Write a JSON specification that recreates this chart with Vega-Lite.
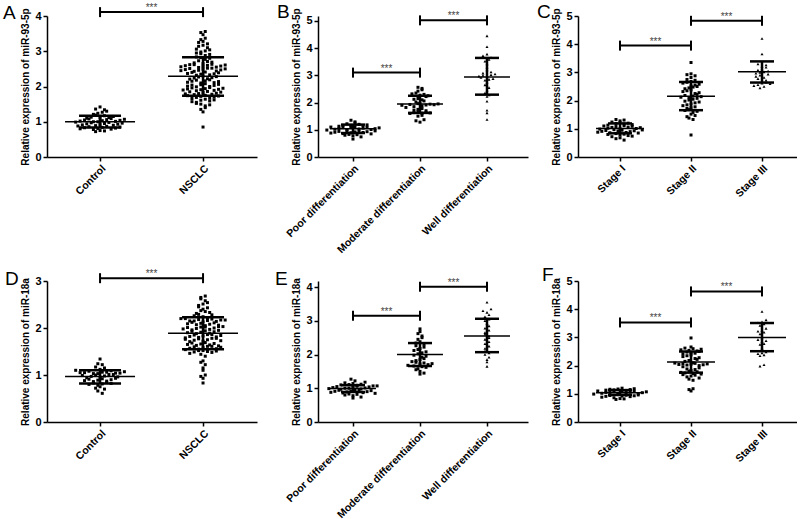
{
"$schema":"https://vega.github.io/schema/vega-lite/v6.json",
"padding":{"left":3,"top":2,"right":0,"bottom":0},
"background":"white",
"config":{"font":"Liberation Sans","view":{"stroke":null},
"axis":{"grid":false,"domainColor":"#000","domainWidth":1.5,"tickColor":"#000","tickWidth":1.5,"tickSize":4,"labelColor":"#000","labelFontSize":11,"labelFontWeight":"bold","labelPadding":2,"labelOverlap":false,"titleFontSize":10,"titleFontWeight":"bold","titleColor":"#000","titlePadding":4,"tickCount":12},
"axisX":{"labelAngle":-45,"labelFontSize":10.5},
"title":{"anchor":"start","frame":"group","fontSize":19,"fontWeight":"normal","color":"#000","offset":0,"baseline":"alphabetic"}},
"datasets":{
"pA":[{"g":"Control","v":0.72},{"g":"Control","v":0.74},{"g":"Control","v":0.75},{"g":"Control","v":0.78},{"g":"Control","v":0.79},{"g":"Control","v":0.80},{"g":"Control","v":0.81},{"g":"Control","v":0.82},{"g":"Control","v":0.83},{"g":"Control","v":0.84},{"g":"Control","v":0.85},{"g":"Control","v":0.86},{"g":"Control","v":0.87},{"g":"Control","v":0.88},{"g":"Control","v":0.89},{"g":"Control","v":0.90},{"g":"Control","v":0.91},{"g":"Control","v":0.92},{"g":"Control","v":0.93},{"g":"Control","v":0.94},{"g":"Control","v":0.95},{"g":"Control","v":0.96},{"g":"Control","v":0.97},{"g":"Control","v":0.98},{"g":"Control","v":0.99},{"g":"Control","v":1.00},{"g":"Control","v":1.00},{"g":"Control","v":1.01},{"g":"Control","v":1.02},{"g":"Control","v":1.03},{"g":"Control","v":1.04},{"g":"Control","v":1.05},{"g":"Control","v":1.06},{"g":"Control","v":1.07},{"g":"Control","v":1.08},{"g":"Control","v":1.09},{"g":"Control","v":1.10},{"g":"Control","v":1.11},{"g":"Control","v":1.12},{"g":"Control","v":1.13},{"g":"Control","v":1.15},{"g":"Control","v":1.17},{"g":"Control","v":1.19},{"g":"Control","v":1.21},{"g":"Control","v":1.24},{"g":"Control","v":1.27},{"g":"Control","v":1.30},{"g":"Control","v":1.34},{"g":"Control","v":1.36},{"g":"Control","v":1.42},
{"g":"NSCLC","v":0.85},{"g":"NSCLC","v":1.28},{"g":"NSCLC","v":1.35},{"g":"NSCLC","v":1.40},{"g":"NSCLC","v":1.45},{"g":"NSCLC","v":1.48},{"g":"NSCLC","v":1.50},{"g":"NSCLC","v":1.52},{"g":"NSCLC","v":1.55},{"g":"NSCLC","v":1.57},{"g":"NSCLC","v":1.59},{"g":"NSCLC","v":1.61},{"g":"NSCLC","v":1.62},{"g":"NSCLC","v":1.64},{"g":"NSCLC","v":1.66},{"g":"NSCLC","v":1.67},{"g":"NSCLC","v":1.69},{"g":"NSCLC","v":1.70},{"g":"NSCLC","v":1.72},{"g":"NSCLC","v":1.73},{"g":"NSCLC","v":1.74},{"g":"NSCLC","v":1.75},{"g":"NSCLC","v":1.77},{"g":"NSCLC","v":1.78},{"g":"NSCLC","v":1.79},{"g":"NSCLC","v":1.80},{"g":"NSCLC","v":1.81},{"g":"NSCLC","v":1.83},{"g":"NSCLC","v":1.84},{"g":"NSCLC","v":1.85},{"g":"NSCLC","v":1.86},{"g":"NSCLC","v":1.88},{"g":"NSCLC","v":1.89},{"g":"NSCLC","v":1.90},{"g":"NSCLC","v":1.91},{"g":"NSCLC","v":1.92},{"g":"NSCLC","v":1.93},{"g":"NSCLC","v":1.94},{"g":"NSCLC","v":1.95},{"g":"NSCLC","v":1.96},{"g":"NSCLC","v":1.97},{"g":"NSCLC","v":1.99},{"g":"NSCLC","v":2.00},{"g":"NSCLC","v":2.01},{"g":"NSCLC","v":2.03},{"g":"NSCLC","v":2.04},{"g":"NSCLC","v":2.05},{"g":"NSCLC","v":2.06},{"g":"NSCLC","v":2.08},{"g":"NSCLC","v":2.10},{"g":"NSCLC","v":2.11},{"g":"NSCLC","v":2.12},{"g":"NSCLC","v":2.14},{"g":"NSCLC","v":2.15},{"g":"NSCLC","v":2.16},{"g":"NSCLC","v":2.18},{"g":"NSCLC","v":2.19},{"g":"NSCLC","v":2.21},{"g":"NSCLC","v":2.22},{"g":"NSCLC","v":2.24},{"g":"NSCLC","v":2.25},{"g":"NSCLC","v":2.27},{"g":"NSCLC","v":2.28},{"g":"NSCLC","v":2.30},{"g":"NSCLC","v":2.32},{"g":"NSCLC","v":2.33},{"g":"NSCLC","v":2.35},{"g":"NSCLC","v":2.36},{"g":"NSCLC","v":2.37},{"g":"NSCLC","v":2.39},{"g":"NSCLC","v":2.40},{"g":"NSCLC","v":2.41},{"g":"NSCLC","v":2.43},{"g":"NSCLC","v":2.44},{"g":"NSCLC","v":2.45},{"g":"NSCLC","v":2.46},{"g":"NSCLC","v":2.47},{"g":"NSCLC","v":2.48},{"g":"NSCLC","v":2.49},{"g":"NSCLC","v":2.50},{"g":"NSCLC","v":2.51},{"g":"NSCLC","v":2.52},{"g":"NSCLC","v":2.52},{"g":"NSCLC","v":2.54},{"g":"NSCLC","v":2.55},{"g":"NSCLC","v":2.56},{"g":"NSCLC","v":2.57},{"g":"NSCLC","v":2.58},{"g":"NSCLC","v":2.59},{"g":"NSCLC","v":2.60},{"g":"NSCLC","v":2.61},{"g":"NSCLC","v":2.62},{"g":"NSCLC","v":2.62},{"g":"NSCLC","v":2.63},{"g":"NSCLC","v":2.65},{"g":"NSCLC","v":2.67},{"g":"NSCLC","v":2.69},{"g":"NSCLC","v":2.71},{"g":"NSCLC","v":2.73},{"g":"NSCLC","v":2.77},{"g":"NSCLC","v":2.80},{"g":"NSCLC","v":2.82},{"g":"NSCLC","v":2.84},{"g":"NSCLC","v":2.88},{"g":"NSCLC","v":2.91},{"g":"NSCLC","v":2.93},{"g":"NSCLC","v":2.95},{"g":"NSCLC","v":2.98},{"g":"NSCLC","v":3.01},{"g":"NSCLC","v":3.04},{"g":"NSCLC","v":3.06},{"g":"NSCLC","v":3.10},{"g":"NSCLC","v":3.14},{"g":"NSCLC","v":3.17},{"g":"NSCLC","v":3.21},{"g":"NSCLC","v":3.25},{"g":"NSCLC","v":3.28},{"g":"NSCLC","v":3.33},{"g":"NSCLC","v":3.37},{"g":"NSCLC","v":3.47},{"g":"NSCLC","v":3.53},{"g":"NSCLC","v":3.56}],
"sA":[{"g":"Control","m":1.0,"lo":0.84,"hi":1.17},{"g":"NSCLC","m":2.29,"lo":1.74,"hi":2.83}],
"gA":[{"a":"Control","b":"NSCLC","y":4.11}],
"pB":[{"g":"Poor","v":0.66},{"g":"Poor","v":0.74},{"g":"Poor","v":0.78},{"g":"Poor","v":0.80},{"g":"Poor","v":0.82},{"g":"Poor","v":0.83},{"g":"Poor","v":0.85},{"g":"Poor","v":0.86},{"g":"Poor","v":0.88},{"g":"Poor","v":0.89},{"g":"Poor","v":0.90},{"g":"Poor","v":0.91},{"g":"Poor","v":0.92},{"g":"Poor","v":0.93},{"g":"Poor","v":0.94},{"g":"Poor","v":0.95},{"g":"Poor","v":0.96},{"g":"Poor","v":0.97},{"g":"Poor","v":0.99},{"g":"Poor","v":1.00},{"g":"Poor","v":1.01},{"g":"Poor","v":1.02},{"g":"Poor","v":1.03},{"g":"Poor","v":1.04},{"g":"Poor","v":1.05},{"g":"Poor","v":1.06},{"g":"Poor","v":1.07},{"g":"Poor","v":1.08},{"g":"Poor","v":1.09},{"g":"Poor","v":1.10},{"g":"Poor","v":1.11},{"g":"Poor","v":1.11},{"g":"Poor","v":1.13},{"g":"Poor","v":1.14},{"g":"Poor","v":1.15},{"g":"Poor","v":1.16},{"g":"Poor","v":1.18},{"g":"Poor","v":1.20},{"g":"Poor","v":1.22},{"g":"Poor","v":1.25},{"g":"Poor","v":1.29},{"g":"Poor","v":1.35},
{"g":"Moderate","v":1.28},{"g":"Moderate","v":1.33},{"g":"Moderate","v":1.37},{"g":"Moderate","v":1.50},{"g":"Moderate","v":1.53},{"g":"Moderate","v":1.60},{"g":"Moderate","v":1.61},{"g":"Moderate","v":1.62},{"g":"Moderate","v":1.63},{"g":"Moderate","v":1.64},{"g":"Moderate","v":1.66},{"g":"Moderate","v":1.70},{"g":"Moderate","v":1.72},{"g":"Moderate","v":1.75},{"g":"Moderate","v":1.78},{"g":"Moderate","v":1.82},{"g":"Moderate","v":1.85},{"g":"Moderate","v":1.88},{"g":"Moderate","v":1.90},{"g":"Moderate","v":1.91},{"g":"Moderate","v":1.92},{"g":"Moderate","v":1.93},{"g":"Moderate","v":1.94},{"g":"Moderate","v":1.95},{"g":"Moderate","v":1.96},{"g":"Moderate","v":1.97},{"g":"Moderate","v":2.02},{"g":"Moderate","v":2.06},{"g":"Moderate","v":2.10},{"g":"Moderate","v":2.12},{"g":"Moderate","v":2.15},{"g":"Moderate","v":2.22},{"g":"Moderate","v":2.25},{"g":"Moderate","v":2.27},{"g":"Moderate","v":2.30},{"g":"Moderate","v":2.32},{"g":"Moderate","v":2.35},{"g":"Moderate","v":2.42},{"g":"Moderate","v":2.47},{"g":"Moderate","v":2.52},{"g":"Moderate","v":2.56},
{"g":"Well","v":1.38},{"g":"Well","v":1.62},{"g":"Well","v":1.72},{"g":"Well","v":2.05},{"g":"Well","v":2.22},{"g":"Well","v":2.28},{"g":"Well","v":2.35},{"g":"Well","v":2.45},{"g":"Well","v":2.55},{"g":"Well","v":2.65},{"g":"Well","v":2.75},{"g":"Well","v":2.82},{"g":"Well","v":2.85},{"g":"Well","v":2.88},{"g":"Well","v":2.92},{"g":"Well","v":2.95},{"g":"Well","v":2.97},{"g":"Well","v":3.00},{"g":"Well","v":3.02},{"g":"Well","v":3.05},{"g":"Well","v":3.08},{"g":"Well","v":3.12},{"g":"Well","v":3.20},{"g":"Well","v":3.30},{"g":"Well","v":3.42},{"g":"Well","v":3.52},{"g":"Well","v":3.58},{"g":"Well","v":3.65},{"g":"Well","v":3.72},{"g":"Well","v":3.78},{"g":"Well","v":4.05},{"g":"Well","v":4.45}],
"sB":[{"g":"Poor","m":1.04,"lo":0.88,"hi":1.19},{"g":"Moderate","m":1.95,"lo":1.62,"hi":2.25},{"g":"Well","m":2.94,"lo":2.29,"hi":3.64}],
"gB":[{"a":"Poor","b":"Moderate","y":3.1},{"a":"Moderate","b":"Well","y":5.02}],
"pC":[{"g":"I","v":0.60},{"g":"I","v":0.65},{"g":"I","v":0.68},{"g":"I","v":0.72},{"g":"I","v":0.74},{"g":"I","v":0.76},{"g":"I","v":0.78},{"g":"I","v":0.80},{"g":"I","v":0.81},{"g":"I","v":0.83},{"g":"I","v":0.85},{"g":"I","v":0.86},{"g":"I","v":0.87},{"g":"I","v":0.88},{"g":"I","v":0.90},{"g":"I","v":0.91},{"g":"I","v":0.92},{"g":"I","v":0.93},{"g":"I","v":0.94},{"g":"I","v":0.95},{"g":"I","v":0.96},{"g":"I","v":0.97},{"g":"I","v":0.99},{"g":"I","v":1.00},{"g":"I","v":1.01},{"g":"I","v":1.02},{"g":"I","v":1.04},{"g":"I","v":1.05},{"g":"I","v":1.06},{"g":"I","v":1.08},{"g":"I","v":1.09},{"g":"I","v":1.10},{"g":"I","v":1.11},{"g":"I","v":1.13},{"g":"I","v":1.15},{"g":"I","v":1.17},{"g":"I","v":1.19},{"g":"I","v":1.20},{"g":"I","v":1.22},{"g":"I","v":1.24},{"g":"I","v":1.28},{"g":"I","v":1.31},{"g":"I","v":1.33},
{"g":"II","v":0.78},{"g":"II","v":1.33},{"g":"II","v":1.38},{"g":"II","v":1.43},{"g":"II","v":1.47},{"g":"II","v":1.52},{"g":"II","v":1.58},{"g":"II","v":1.62},{"g":"II","v":1.65},{"g":"II","v":1.68},{"g":"II","v":1.72},{"g":"II","v":1.75},{"g":"II","v":1.78},{"g":"II","v":1.82},{"g":"II","v":1.85},{"g":"II","v":1.88},{"g":"II","v":1.92},{"g":"II","v":1.95},{"g":"II","v":1.98},{"g":"II","v":2.02},{"g":"II","v":2.05},{"g":"II","v":2.08},{"g":"II","v":2.10},{"g":"II","v":2.12},{"g":"II","v":2.14},{"g":"II","v":2.16},{"g":"II","v":2.18},{"g":"II","v":2.22},{"g":"II","v":2.25},{"g":"II","v":2.28},{"g":"II","v":2.32},{"g":"II","v":2.35},{"g":"II","v":2.38},{"g":"II","v":2.42},{"g":"II","v":2.45},{"g":"II","v":2.48},{"g":"II","v":2.50},{"g":"II","v":2.52},{"g":"II","v":2.55},{"g":"II","v":2.58},{"g":"II","v":2.62},{"g":"II","v":2.65},{"g":"II","v":2.68},{"g":"II","v":2.72},{"g":"II","v":2.75},{"g":"II","v":2.82},{"g":"II","v":2.88},{"g":"II","v":2.92},{"g":"II","v":2.95},{"g":"II","v":3.35},
{"g":"III","v":2.45},{"g":"III","v":2.50},{"g":"III","v":2.53},{"g":"III","v":2.56},{"g":"III","v":2.60},{"g":"III","v":2.62},{"g":"III","v":2.65},{"g":"III","v":2.68},{"g":"III","v":2.72},{"g":"III","v":2.78},{"g":"III","v":2.82},{"g":"III","v":2.86},{"g":"III","v":2.90},{"g":"III","v":2.94},{"g":"III","v":2.97},{"g":"III","v":3.00},{"g":"III","v":3.02},{"g":"III","v":3.05},{"g":"III","v":3.08},{"g":"III","v":3.12},{"g":"III","v":3.18},{"g":"III","v":3.22},{"g":"III","v":3.26},{"g":"III","v":3.30},{"g":"III","v":3.65},{"g":"III","v":4.20}],
"sC":[{"g":"I","m":1.01,"lo":0.84,"hi":1.19},{"g":"II","m":2.15,"lo":1.66,"hi":2.66},{"g":"III","m":3.02,"lo":2.64,"hi":3.39}],
"gC":[{"a":"I","b":"II","y":3.95},{"a":"II","b":"III","y":4.83}],
"pD":[{"g":"Control","v":0.61},{"g":"Control","v":0.66},{"g":"Control","v":0.70},{"g":"Control","v":0.72},{"g":"Control","v":0.75},{"g":"Control","v":0.78},{"g":"Control","v":0.80},{"g":"Control","v":0.81},{"g":"Control","v":0.82},{"g":"Control","v":0.83},{"g":"Control","v":0.84},{"g":"Control","v":0.86},{"g":"Control","v":0.87},{"g":"Control","v":0.88},{"g":"Control","v":0.89},{"g":"Control","v":0.90},{"g":"Control","v":0.91},{"g":"Control","v":0.92},{"g":"Control","v":0.93},{"g":"Control","v":0.94},{"g":"Control","v":0.95},{"g":"Control","v":0.96},{"g":"Control","v":0.97},{"g":"Control","v":0.98},{"g":"Control","v":0.99},{"g":"Control","v":1.00},{"g":"Control","v":1.01},{"g":"Control","v":1.01},{"g":"Control","v":1.03},{"g":"Control","v":1.03},{"g":"Control","v":1.04},{"g":"Control","v":1.04},{"g":"Control","v":1.05},{"g":"Control","v":1.05},{"g":"Control","v":1.06},{"g":"Control","v":1.06},{"g":"Control","v":1.07},{"g":"Control","v":1.08},{"g":"Control","v":1.09},{"g":"Control","v":1.10},{"g":"Control","v":1.12},{"g":"Control","v":1.15},{"g":"Control","v":1.17},{"g":"Control","v":1.22},{"g":"Control","v":1.24},{"g":"Control","v":1.34},
{"g":"NSCLC","v":0.83},{"g":"NSCLC","v":0.93},{"g":"NSCLC","v":0.97},{"g":"NSCLC","v":1.00},{"g":"NSCLC","v":1.10},{"g":"NSCLC","v":1.15},{"g":"NSCLC","v":1.22},{"g":"NSCLC","v":1.27},{"g":"NSCLC","v":1.30},{"g":"NSCLC","v":1.40},{"g":"NSCLC","v":1.44},{"g":"NSCLC","v":1.46},{"g":"NSCLC","v":1.48},{"g":"NSCLC","v":1.49},{"g":"NSCLC","v":1.50},{"g":"NSCLC","v":1.51},{"g":"NSCLC","v":1.52},{"g":"NSCLC","v":1.52},{"g":"NSCLC","v":1.54},{"g":"NSCLC","v":1.55},{"g":"NSCLC","v":1.56},{"g":"NSCLC","v":1.57},{"g":"NSCLC","v":1.58},{"g":"NSCLC","v":1.59},{"g":"NSCLC","v":1.60},{"g":"NSCLC","v":1.61},{"g":"NSCLC","v":1.61},{"g":"NSCLC","v":1.62},{"g":"NSCLC","v":1.63},{"g":"NSCLC","v":1.64},{"g":"NSCLC","v":1.65},{"g":"NSCLC","v":1.66},{"g":"NSCLC","v":1.67},{"g":"NSCLC","v":1.68},{"g":"NSCLC","v":1.69},{"g":"NSCLC","v":1.71},{"g":"NSCLC","v":1.72},{"g":"NSCLC","v":1.73},{"g":"NSCLC","v":1.74},{"g":"NSCLC","v":1.75},{"g":"NSCLC","v":1.76},{"g":"NSCLC","v":1.77},{"g":"NSCLC","v":1.78},{"g":"NSCLC","v":1.78},{"g":"NSCLC","v":1.79},{"g":"NSCLC","v":1.80},{"g":"NSCLC","v":1.81},{"g":"NSCLC","v":1.82},{"g":"NSCLC","v":1.83},{"g":"NSCLC","v":1.84},{"g":"NSCLC","v":1.85},{"g":"NSCLC","v":1.86},{"g":"NSCLC","v":1.86},{"g":"NSCLC","v":1.88},{"g":"NSCLC","v":1.89},{"g":"NSCLC","v":1.90},{"g":"NSCLC","v":1.91},{"g":"NSCLC","v":1.92},{"g":"NSCLC","v":1.93},{"g":"NSCLC","v":1.94},{"g":"NSCLC","v":1.95},{"g":"NSCLC","v":1.96},{"g":"NSCLC","v":1.97},{"g":"NSCLC","v":1.98},{"g":"NSCLC","v":1.99},{"g":"NSCLC","v":2.00},{"g":"NSCLC","v":2.01},{"g":"NSCLC","v":2.02},{"g":"NSCLC","v":2.03},{"g":"NSCLC","v":2.03},{"g":"NSCLC","v":2.02},{"g":"NSCLC","v":2.05},{"g":"NSCLC","v":2.06},{"g":"NSCLC","v":2.07},{"g":"NSCLC","v":2.08},{"g":"NSCLC","v":2.09},{"g":"NSCLC","v":2.10},{"g":"NSCLC","v":2.11},{"g":"NSCLC","v":2.12},{"g":"NSCLC","v":2.13},{"g":"NSCLC","v":2.14},{"g":"NSCLC","v":2.15},{"g":"NSCLC","v":2.16},{"g":"NSCLC","v":2.17},{"g":"NSCLC","v":2.18},{"g":"NSCLC","v":2.19},{"g":"NSCLC","v":2.20},{"g":"NSCLC","v":2.20},{"g":"NSCLC","v":2.15},{"g":"NSCLC","v":2.17},{"g":"NSCLC","v":2.22},{"g":"NSCLC","v":2.24},{"g":"NSCLC","v":2.26},{"g":"NSCLC","v":2.28},{"g":"NSCLC","v":2.29},{"g":"NSCLC","v":2.31},{"g":"NSCLC","v":2.33},{"g":"NSCLC","v":2.35},{"g":"NSCLC","v":2.37},{"g":"NSCLC","v":2.40},{"g":"NSCLC","v":2.43},{"g":"NSCLC","v":2.45},{"g":"NSCLC","v":2.48},{"g":"NSCLC","v":2.51},{"g":"NSCLC","v":2.54},{"g":"NSCLC","v":2.58},{"g":"NSCLC","v":2.62},{"g":"NSCLC","v":2.65},{"g":"NSCLC","v":2.68}],
"sD":[{"g":"Control","m":0.97,"lo":0.82,"hi":1.10},{"g":"NSCLC","m":1.89,"lo":1.55,"hi":2.23}],
"gD":[{"a":"Control","b":"NSCLC","y":3.06}],
"pE":[{"g":"Poor","v":0.71},{"g":"Poor","v":0.74},{"g":"Poor","v":0.78},{"g":"Poor","v":0.80},{"g":"Poor","v":0.82},{"g":"Poor","v":0.83},{"g":"Poor","v":0.85},{"g":"Poor","v":0.86},{"g":"Poor","v":0.87},{"g":"Poor","v":0.88},{"g":"Poor","v":0.89},{"g":"Poor","v":0.90},{"g":"Poor","v":0.91},{"g":"Poor","v":0.92},{"g":"Poor","v":0.93},{"g":"Poor","v":0.94},{"g":"Poor","v":0.95},{"g":"Poor","v":0.95},{"g":"Poor","v":0.97},{"g":"Poor","v":0.98},{"g":"Poor","v":0.99},{"g":"Poor","v":1.00},{"g":"Poor","v":1.00},{"g":"Poor","v":1.01},{"g":"Poor","v":1.02},{"g":"Poor","v":1.03},{"g":"Poor","v":1.04},{"g":"Poor","v":1.05},{"g":"Poor","v":1.06},{"g":"Poor","v":1.07},{"g":"Poor","v":1.07},{"g":"Poor","v":1.09},{"g":"Poor","v":1.10},{"g":"Poor","v":1.11},{"g":"Poor","v":1.12},{"g":"Poor","v":1.14},{"g":"Poor","v":1.16},{"g":"Poor","v":1.18},{"g":"Poor","v":1.22},{"g":"Poor","v":1.27},
{"g":"Moderate","v":1.42},{"g":"Moderate","v":1.45},{"g":"Moderate","v":1.50},{"g":"Moderate","v":1.55},{"g":"Moderate","v":1.58},{"g":"Moderate","v":1.62},{"g":"Moderate","v":1.64},{"g":"Moderate","v":1.66},{"g":"Moderate","v":1.68},{"g":"Moderate","v":1.70},{"g":"Moderate","v":1.72},{"g":"Moderate","v":1.73},{"g":"Moderate","v":1.75},{"g":"Moderate","v":1.77},{"g":"Moderate","v":1.79},{"g":"Moderate","v":1.82},{"g":"Moderate","v":1.85},{"g":"Moderate","v":1.88},{"g":"Moderate","v":1.92},{"g":"Moderate","v":1.95},{"g":"Moderate","v":1.98},{"g":"Moderate","v":2.02},{"g":"Moderate","v":2.05},{"g":"Moderate","v":2.08},{"g":"Moderate","v":2.12},{"g":"Moderate","v":2.15},{"g":"Moderate","v":2.18},{"g":"Moderate","v":2.22},{"g":"Moderate","v":2.26},{"g":"Moderate","v":2.30},{"g":"Moderate","v":2.34},{"g":"Moderate","v":2.38},{"g":"Moderate","v":2.45},{"g":"Moderate","v":2.50},{"g":"Moderate","v":2.55},{"g":"Moderate","v":2.62},{"g":"Moderate","v":2.68},{"g":"Moderate","v":2.76},
{"g":"Well","v":1.65},{"g":"Well","v":1.78},{"g":"Well","v":1.85},{"g":"Well","v":1.92},{"g":"Well","v":2.00},{"g":"Well","v":2.05},{"g":"Well","v":2.10},{"g":"Well","v":2.18},{"g":"Well","v":2.25},{"g":"Well","v":2.32},{"g":"Well","v":2.38},{"g":"Well","v":2.45},{"g":"Well","v":2.50},{"g":"Well","v":2.55},{"g":"Well","v":2.60},{"g":"Well","v":2.65},{"g":"Well","v":2.72},{"g":"Well","v":2.78},{"g":"Well","v":2.85},{"g":"Well","v":2.92},{"g":"Well","v":3.00},{"g":"Well","v":3.05},{"g":"Well","v":3.12},{"g":"Well","v":3.18},{"g":"Well","v":3.25},{"g":"Well","v":3.30},{"g":"Well","v":3.35},{"g":"Well","v":3.55}],
"sE":[{"g":"Poor","m":0.99,"lo":0.89,"hi":1.09},{"g":"Moderate","m":2.0,"lo":1.66,"hi":2.34},{"g":"Well","m":2.55,"lo":2.07,"hi":3.06}],
"gE":[{"a":"Poor","b":"Moderate","y":3.15},{"a":"Moderate","b":"Well","y":4.01}],
"pF":[{"g":"I","v":0.80},{"g":"I","v":0.82},{"g":"I","v":0.83},{"g":"I","v":0.86},{"g":"I","v":0.88},{"g":"I","v":0.90},{"g":"I","v":0.91},{"g":"I","v":0.92},{"g":"I","v":0.93},{"g":"I","v":0.94},{"g":"I","v":0.95},{"g":"I","v":0.96},{"g":"I","v":0.97},{"g":"I","v":0.99},{"g":"I","v":1.00},{"g":"I","v":1.01},{"g":"I","v":1.02},{"g":"I","v":1.03},{"g":"I","v":1.04},{"g":"I","v":1.05},{"g":"I","v":1.05},{"g":"I","v":1.06},{"g":"I","v":1.07},{"g":"I","v":1.08},{"g":"I","v":1.09},{"g":"I","v":1.10},{"g":"I","v":1.11},{"g":"I","v":1.12},{"g":"I","v":1.13},{"g":"I","v":1.14},{"g":"I","v":1.15},{"g":"I","v":1.16},{"g":"I","v":1.17},{"g":"I","v":1.18},{"g":"I","v":1.20},
{"g":"II","v":1.10},{"g":"II","v":1.15},{"g":"II","v":1.18},{"g":"II","v":1.48},{"g":"II","v":1.52},{"g":"II","v":1.56},{"g":"II","v":1.60},{"g":"II","v":1.63},{"g":"II","v":1.66},{"g":"II","v":1.68},{"g":"II","v":1.70},{"g":"II","v":1.72},{"g":"II","v":1.74},{"g":"II","v":1.76},{"g":"II","v":1.78},{"g":"II","v":1.80},{"g":"II","v":1.83},{"g":"II","v":1.86},{"g":"II","v":1.88},{"g":"II","v":1.92},{"g":"II","v":1.96},{"g":"II","v":2.00},{"g":"II","v":2.02},{"g":"II","v":2.03},{"g":"II","v":2.04},{"g":"II","v":2.05},{"g":"II","v":2.06},{"g":"II","v":2.07},{"g":"II","v":2.08},{"g":"II","v":2.09},{"g":"II","v":2.10},{"g":"II","v":2.15},{"g":"II","v":2.18},{"g":"II","v":2.22},{"g":"II","v":2.25},{"g":"II","v":2.28},{"g":"II","v":2.32},{"g":"II","v":2.35},{"g":"II","v":2.38},{"g":"II","v":2.42},{"g":"II","v":2.44},{"g":"II","v":2.46},{"g":"II","v":2.48},{"g":"II","v":2.50},{"g":"II","v":2.52},{"g":"II","v":2.54},{"g":"II","v":2.56},{"g":"II","v":2.58},{"g":"II","v":2.60},{"g":"II","v":2.62},{"g":"II","v":2.66},{"g":"II","v":2.98},
{"g":"III","v":1.98},{"g":"III","v":2.03},{"g":"III","v":2.35},{"g":"III","v":2.38},{"g":"III","v":2.42},{"g":"III","v":2.45},{"g":"III","v":2.48},{"g":"III","v":2.62},{"g":"III","v":2.75},{"g":"III","v":2.78},{"g":"III","v":2.85},{"g":"III","v":2.88},{"g":"III","v":2.92},{"g":"III","v":2.98},{"g":"III","v":3.12},{"g":"III","v":3.18},{"g":"III","v":3.22},{"g":"III","v":3.25},{"g":"III","v":3.32},{"g":"III","v":3.42},{"g":"III","v":3.48},{"g":"III","v":3.52},{"g":"III","v":3.55},{"g":"III","v":3.62},{"g":"III","v":3.92}],
"sF":[{"g":"I","m":1.04,"lo":0.96,"hi":1.13},{"g":"II","m":2.13,"lo":1.75,"hi":2.50},{"g":"III","m":3.0,"lo":2.51,"hi":3.51}],
"gF":[{"a":"I","b":"II","y":3.53},{"a":"II","b":"III","y":4.63}]
},
"spacing":265,"bounds":"flush",
"vconcat":[
{"hconcat":[
{"width":210,"height":141,"title":{"text":"A","dx":-44,"dy":24},
"layer":[
{"data":{"name":"pA"},"transform":[{"calculate":"indexof(['Control','NSCLC'],datum.g)+1","as":"i"},{"calculate":"floor(datum.v/0.11)","as":"b"},{"calculate":"(round(datum.v*100)*37)%11","as":"k"},{"joinaggregate":[{"op":"count","as":"n"}],"groupby":["g","b"]},{"window":[{"op":"row_number","as":"r"}],"groupby":["g","b"],"sort":[{"field":"k"}]},{"calculate":"datum.i+(datum.r-(datum.n+1)/2)*0.043","as":"x"}],
"mark":{"type":"point","shape":"square","filled":true,"size":9,"color":"#000","opacity":1},
"encoding":{"x":{"field":"x","type":"quantitative","scale":{"domain":[0.485,2.524],"nice":false,"zero":false},"axis":{"values":[1,2],"labelExpr":"['','Control','NSCLC'][datum.value]","title":null}},"y":{"field":"v","type":"quantitative","scale":{"domain":[0,4],"nice":false},"axis":{"values":[0,1,2,3,4],"format":"d","tickCount":12,"labelOverlap":false,"title":"Relative expression of miR-93-5p"}}}},
{"data":{"name":"sA"},"transform":[{"calculate":"indexof(['Control','NSCLC'],datum.g)+1","as":"i"}],"mark":{"type":"rule","strokeWidth":2.5,"color":"#000"},"encoding":{"x":{"field":"i","type":"quantitative"},"y":{"field":"lo","type":"quantitative"},"y2":{"field":"hi"}}},
{"data":{"name":"sA"},"transform":[{"calculate":"indexof(['Control','NSCLC'],datum.g)+1","as":"i"}],"mark":{"type":"rule","strokeWidth":1.5,"color":"#000","xOffset":-35,"x2Offset":35},"encoding":{"x":{"field":"i","type":"quantitative"},"x2":{"field":"i"},"y":{"field":"m","type":"quantitative"}}},
{"data":{"name":"sA"},"transform":[{"calculate":"indexof(['Control','NSCLC'],datum.g)+1","as":"i"},{"fold":["lo","hi"],"as":["kk","yy"]}],"mark":{"type":"rule","strokeWidth":2.5,"color":"#000","xOffset":-21,"x2Offset":21},"encoding":{"x":{"field":"i","type":"quantitative"},"x2":{"field":"i"},"y":{"field":"yy","type":"quantitative"}}},
{"data":{"name":"gA"},"transform":[{"calculate":"indexof(['Control','NSCLC'],datum.a)+1","as":"ia"},{"calculate":"indexof(['Control','NSCLC'],datum.b)+1","as":"ib"}],"mark":{"type":"rule","strokeWidth":2,"color":"#000"},"encoding":{"x":{"field":"ia","type":"quantitative"},"x2":{"field":"ib"},"y":{"field":"y","type":"quantitative"}}},
{"data":{"name":"gA"},"transform":[{"calculate":"indexof(['Control','NSCLC'],datum.a)+1","as":"ia"},{"calculate":"indexof(['Control','NSCLC'],datum.b)+1","as":"ib"},{"fold":["ia","ib"],"as":["e","ex"]}],"mark":{"type":"rule","strokeWidth":2,"color":"#000","yOffset":-5,"y2Offset":5},"encoding":{"x":{"field":"ex","type":"quantitative"},"y":{"field":"y","type":"quantitative"},"y2":{"field":"y"}}},
{"data":{"name":"gA"},"transform":[{"calculate":"(indexof(['Control','NSCLC'],datum.a)+indexof(['Control','NSCLC'],datum.b))/2+1","as":"mid"}],"mark":{"type":"text","text":"***","fontSize":10,"color":"#444","dy":-1,"baseline":"alphabetic"},"encoding":{"x":{"field":"mid","type":"quantitative"},"y":{"field":"y","type":"quantitative"}}}
]},
{"hconcat":[
{"width":210,"height":141,"title":{"text":"B","dx":-41,"dy":18},
"layer":[
{"data":{"name":"pB"},"transform":[{"calculate":"indexof(['Poor','Moderate','Well'],datum.g)+1","as":"i"},{"calculate":"floor(datum.v/0.14)","as":"b"},{"calculate":"(round(datum.v*100)*37)%11","as":"k"},{"joinaggregate":[{"op":"count","as":"n"}],"groupby":["g","b"]},{"window":[{"op":"row_number","as":"r"}],"groupby":["g","b"],"sort":[{"field":"k"}]},{"calculate":"datum.i+(datum.r-(datum.n+1)/2)*0.06","as":"x"}],
"mark":{"type":"point","filled":true,"size":9,"color":"#000","opacity":1},
"encoding":{"x":{"field":"x","type":"quantitative","scale":{"domain":[0.478,3.612],"nice":false,"zero":false},"axis":{"values":[1,2,3],"labelExpr":"['','Poor differentiation','Moderate differentiation','Well differentiation'][datum.value]","title":null}},"y":{"field":"v","type":"quantitative","scale":{"domain":[0,5.18],"nice":false},"axis":{"values":[0,1,2,3,4,5],"format":"d","tickCount":12,"labelOverlap":false,"title":"Relative expression of miR-93-5p"}},"shape":{"field":"g","type":"nominal","scale":{"domain":["Poor","Moderate","Well"],"range":["square","square","triangle-up"]},"legend":null}}},
{"data":{"name":"sB"},"transform":[{"calculate":"indexof(['Poor','Moderate','Well'],datum.g)+1","as":"i"}],"mark":{"type":"rule","strokeWidth":2.5,"color":"#000"},"encoding":{"x":{"field":"i","type":"quantitative"},"y":{"field":"lo","type":"quantitative"},"y2":{"field":"hi"}}},
{"data":{"name":"sB"},"transform":[{"calculate":"indexof(['Poor','Moderate','Well'],datum.g)+1","as":"i"}],"mark":{"type":"rule","strokeWidth":1.5,"color":"#000","xOffset":-23,"x2Offset":23},"encoding":{"x":{"field":"i","type":"quantitative"},"x2":{"field":"i"},"y":{"field":"m","type":"quantitative"}}},
{"data":{"name":"sB"},"transform":[{"calculate":"indexof(['Poor','Moderate','Well'],datum.g)+1","as":"i"},{"fold":["lo","hi"],"as":["kk","yy"]}],"mark":{"type":"rule","strokeWidth":2.5,"color":"#000","xOffset":-12,"x2Offset":12},"encoding":{"x":{"field":"i","type":"quantitative"},"x2":{"field":"i"},"y":{"field":"yy","type":"quantitative"}}},
{"data":{"name":"gB"},"transform":[{"calculate":"indexof(['Poor','Moderate','Well'],datum.a)+1","as":"ia"},{"calculate":"indexof(['Poor','Moderate','Well'],datum.b)+1","as":"ib"}],"mark":{"type":"rule","strokeWidth":2,"color":"#000"},"encoding":{"x":{"field":"ia","type":"quantitative"},"x2":{"field":"ib"},"y":{"field":"y","type":"quantitative"}}},
{"data":{"name":"gB"},"transform":[{"calculate":"indexof(['Poor','Moderate','Well'],datum.a)+1","as":"ia"},{"calculate":"indexof(['Poor','Moderate','Well'],datum.b)+1","as":"ib"},{"fold":["ia","ib"],"as":["e","ex"]}],"mark":{"type":"rule","strokeWidth":2,"color":"#000","yOffset":-5,"y2Offset":5},"encoding":{"x":{"field":"ex","type":"quantitative"},"y":{"field":"y","type":"quantitative"},"y2":{"field":"y"}}},
{"data":{"name":"gB"},"transform":[{"calculate":"(indexof(['Poor','Moderate','Well'],datum.a)+indexof(['Poor','Moderate','Well'],datum.b))/2+1","as":"mid"}],"mark":{"type":"text","text":"***","fontSize":10,"color":"#444","dy":-1,"baseline":"alphabetic"},"encoding":{"x":{"field":"mid","type":"quantitative"},"y":{"field":"y","type":"quantitative"}}}
]},
{"width":219,"height":141,"title":{"text":"C","dx":-41,"dy":18},
"layer":[
{"data":{"name":"pC"},"transform":[{"calculate":"indexof(['I','II','III'],datum.g)+1","as":"i"},{"calculate":"floor(datum.v/0.14)","as":"b"},{"calculate":"(round(datum.v*100)*37)%11","as":"k"},{"joinaggregate":[{"op":"count","as":"n"}],"groupby":["g","b"]},{"window":[{"op":"row_number","as":"r"}],"groupby":["g","b"],"sort":[{"field":"k"}]},{"calculate":"datum.i+(datum.r-(datum.n+1)/2)*0.057","as":"x"}],
"mark":{"type":"point","filled":true,"size":9,"color":"#000","opacity":1},
"encoding":{"x":{"field":"x","type":"quantitative","scale":{"domain":[0.408,3.493],"nice":false,"zero":false},"axis":{"values":[1,2,3],"labelExpr":"['','Stage I','Stage II','Stage III'][datum.value]","title":null}},"y":{"field":"v","type":"quantitative","scale":{"domain":[0,5],"nice":false},"axis":{"values":[0,1,2,3,4,5],"format":"d","tickCount":12,"labelOverlap":false,"title":"Relative expression of miR-93-5p"}},"shape":{"field":"g","type":"nominal","scale":{"domain":["I","II","III"],"range":["square","square","triangle-up"]},"legend":null}}},
{"data":{"name":"sC"},"transform":[{"calculate":"indexof(['I','II','III'],datum.g)+1","as":"i"}],"mark":{"type":"rule","strokeWidth":2.5,"color":"#000"},"encoding":{"x":{"field":"i","type":"quantitative"},"y":{"field":"lo","type":"quantitative"},"y2":{"field":"hi"}}},
{"data":{"name":"sC"},"transform":[{"calculate":"indexof(['I','II','III'],datum.g)+1","as":"i"}],"mark":{"type":"rule","strokeWidth":1.5,"color":"#000","xOffset":-24,"x2Offset":24},"encoding":{"x":{"field":"i","type":"quantitative"},"x2":{"field":"i"},"y":{"field":"m","type":"quantitative"}}},
{"data":{"name":"sC"},"transform":[{"calculate":"indexof(['I','II','III'],datum.g)+1","as":"i"},{"fold":["lo","hi"],"as":["kk","yy"]}],"mark":{"type":"rule","strokeWidth":2.5,"color":"#000","xOffset":-12,"x2Offset":12},"encoding":{"x":{"field":"i","type":"quantitative"},"x2":{"field":"i"},"y":{"field":"yy","type":"quantitative"}}},
{"data":{"name":"gC"},"transform":[{"calculate":"indexof(['I','II','III'],datum.a)+1","as":"ia"},{"calculate":"indexof(['I','II','III'],datum.b)+1","as":"ib"}],"mark":{"type":"rule","strokeWidth":2,"color":"#000"},"encoding":{"x":{"field":"ia","type":"quantitative"},"x2":{"field":"ib"},"y":{"field":"y","type":"quantitative"}}},
{"data":{"name":"gC"},"transform":[{"calculate":"indexof(['I','II','III'],datum.a)+1","as":"ia"},{"calculate":"indexof(['I','II','III'],datum.b)+1","as":"ib"},{"fold":["ia","ib"],"as":["e","ex"]}],"mark":{"type":"rule","strokeWidth":2,"color":"#000","yOffset":-5,"y2Offset":5},"encoding":{"x":{"field":"ex","type":"quantitative"},"y":{"field":"y","type":"quantitative"},"y2":{"field":"y"}}},
{"data":{"name":"gC"},"transform":[{"calculate":"(indexof(['I','II','III'],datum.a)+indexof(['I','II','III'],datum.b))/2+1","as":"mid"}],"mark":{"type":"text","text":"***","fontSize":10,"color":"#444","dy":-1,"baseline":"alphabetic"},"encoding":{"x":{"field":"mid","type":"quantitative"},"y":{"field":"y","type":"quantitative"}}}
]}
],"spacing":50,"bounds":"flush"}
],"spacing":61,"bounds":"flush"},
{"hconcat":[
{"width":210,"height":141,"title":{"text":"D","dx":-42,"dy":24},
"layer":[
{"data":{"name":"pD"},"transform":[{"calculate":"indexof(['Control','NSCLC'],datum.g)+1","as":"i"},{"calculate":"floor(datum.v/0.085)","as":"b"},{"calculate":"(round(datum.v*100)*37)%11","as":"k"},{"joinaggregate":[{"op":"count","as":"n"}],"groupby":["g","b"]},{"window":[{"op":"row_number","as":"r"}],"groupby":["g","b"],"sort":[{"field":"k"}]},{"calculate":"datum.i+(datum.r-(datum.n+1)/2)*0.043","as":"x"}],
"mark":{"type":"point","shape":"square","filled":true,"size":9,"color":"#000","opacity":1},
"encoding":{"x":{"field":"x","type":"quantitative","scale":{"domain":[0.485,2.524],"nice":false,"zero":false},"axis":{"values":[1,2],"labelExpr":"['','Control','NSCLC'][datum.value]","title":null}},"y":{"field":"v","type":"quantitative","scale":{"domain":[0,3],"nice":false},"axis":{"values":[0,1,2,3],"format":"d","tickCount":12,"labelOverlap":false,"title":"Relative expression of miR-18a"}}}},
{"data":{"name":"sD"},"transform":[{"calculate":"indexof(['Control','NSCLC'],datum.g)+1","as":"i"}],"mark":{"type":"rule","strokeWidth":2.5,"color":"#000"},"encoding":{"x":{"field":"i","type":"quantitative"},"y":{"field":"lo","type":"quantitative"},"y2":{"field":"hi"}}},
{"data":{"name":"sD"},"transform":[{"calculate":"indexof(['Control','NSCLC'],datum.g)+1","as":"i"}],"mark":{"type":"rule","strokeWidth":1.5,"color":"#000","xOffset":-35,"x2Offset":35},"encoding":{"x":{"field":"i","type":"quantitative"},"x2":{"field":"i"},"y":{"field":"m","type":"quantitative"}}},
{"data":{"name":"sD"},"transform":[{"calculate":"indexof(['Control','NSCLC'],datum.g)+1","as":"i"},{"fold":["lo","hi"],"as":["kk","yy"]}],"mark":{"type":"rule","strokeWidth":2.5,"color":"#000","xOffset":-21,"x2Offset":21},"encoding":{"x":{"field":"i","type":"quantitative"},"x2":{"field":"i"},"y":{"field":"yy","type":"quantitative"}}},
{"data":{"name":"gD"},"transform":[{"calculate":"indexof(['Control','NSCLC'],datum.a)+1","as":"ia"},{"calculate":"indexof(['Control','NSCLC'],datum.b)+1","as":"ib"}],"mark":{"type":"rule","strokeWidth":2,"color":"#000"},"encoding":{"x":{"field":"ia","type":"quantitative"},"x2":{"field":"ib"},"y":{"field":"y","type":"quantitative"}}},
{"data":{"name":"gD"},"transform":[{"calculate":"indexof(['Control','NSCLC'],datum.a)+1","as":"ia"},{"calculate":"indexof(['Control','NSCLC'],datum.b)+1","as":"ib"},{"fold":["ia","ib"],"as":["e","ex"]}],"mark":{"type":"rule","strokeWidth":2,"color":"#000","yOffset":-5,"y2Offset":5},"encoding":{"x":{"field":"ex","type":"quantitative"},"y":{"field":"y","type":"quantitative"},"y2":{"field":"y"}}},
{"data":{"name":"gD"},"transform":[{"calculate":"(indexof(['Control','NSCLC'],datum.a)+indexof(['Control','NSCLC'],datum.b))/2+1","as":"mid"}],"mark":{"type":"text","text":"***","fontSize":10,"color":"#444","dy":-1,"baseline":"alphabetic"},"encoding":{"x":{"field":"mid","type":"quantitative"},"y":{"field":"y","type":"quantitative"}}}
]},
{"hconcat":[
{"width":210,"height":141,"title":{"text":"E","dx":-43,"dy":15},
"layer":[
{"data":{"name":"pE"},"transform":[{"calculate":"indexof(['Poor','Moderate','Well'],datum.g)+1","as":"i"},{"calculate":"floor(datum.v/0.12)","as":"b"},{"calculate":"(round(datum.v*100)*37)%11","as":"k"},{"joinaggregate":[{"op":"count","as":"n"}],"groupby":["g","b"]},{"window":[{"op":"row_number","as":"r"}],"groupby":["g","b"],"sort":[{"field":"k"}]},{"calculate":"datum.i+(datum.r-(datum.n+1)/2)*0.06","as":"x"}],
"mark":{"type":"point","filled":true,"size":9,"color":"#000","opacity":1},
"encoding":{"x":{"field":"x","type":"quantitative","scale":{"domain":[0.478,3.612],"nice":false,"zero":false},"axis":{"values":[1,2,3],"labelExpr":"['','Poor differentiation','Moderate differentiation','Well differentiation'][datum.value]","title":null}},"y":{"field":"v","type":"quantitative","scale":{"domain":[0,4.18],"nice":false},"axis":{"values":[0,1,2,3,4],"format":"d","tickCount":12,"labelOverlap":false,"title":"Relative expression of miR-18a"}},"shape":{"field":"g","type":"nominal","scale":{"domain":["Poor","Moderate","Well"],"range":["square","square","triangle-up"]},"legend":null}}},
{"data":{"name":"sE"},"transform":[{"calculate":"indexof(['Poor','Moderate','Well'],datum.g)+1","as":"i"}],"mark":{"type":"rule","strokeWidth":2.5,"color":"#000"},"encoding":{"x":{"field":"i","type":"quantitative"},"y":{"field":"lo","type":"quantitative"},"y2":{"field":"hi"}}},
{"data":{"name":"sE"},"transform":[{"calculate":"indexof(['Poor','Moderate','Well'],datum.g)+1","as":"i"}],"mark":{"type":"rule","strokeWidth":1.5,"color":"#000","xOffset":-23,"x2Offset":23},"encoding":{"x":{"field":"i","type":"quantitative"},"x2":{"field":"i"},"y":{"field":"m","type":"quantitative"}}},
{"data":{"name":"sE"},"transform":[{"calculate":"indexof(['Poor','Moderate','Well'],datum.g)+1","as":"i"},{"fold":["lo","hi"],"as":["kk","yy"]}],"mark":{"type":"rule","strokeWidth":2.5,"color":"#000","xOffset":-12,"x2Offset":12},"encoding":{"x":{"field":"i","type":"quantitative"},"x2":{"field":"i"},"y":{"field":"yy","type":"quantitative"}}},
{"data":{"name":"gE"},"transform":[{"calculate":"indexof(['Poor','Moderate','Well'],datum.a)+1","as":"ia"},{"calculate":"indexof(['Poor','Moderate','Well'],datum.b)+1","as":"ib"}],"mark":{"type":"rule","strokeWidth":2,"color":"#000"},"encoding":{"x":{"field":"ia","type":"quantitative"},"x2":{"field":"ib"},"y":{"field":"y","type":"quantitative"}}},
{"data":{"name":"gE"},"transform":[{"calculate":"indexof(['Poor','Moderate','Well'],datum.a)+1","as":"ia"},{"calculate":"indexof(['Poor','Moderate','Well'],datum.b)+1","as":"ib"},{"fold":["ia","ib"],"as":["e","ex"]}],"mark":{"type":"rule","strokeWidth":2,"color":"#000","yOffset":-5,"y2Offset":5},"encoding":{"x":{"field":"ex","type":"quantitative"},"y":{"field":"y","type":"quantitative"},"y2":{"field":"y"}}},
{"data":{"name":"gE"},"transform":[{"calculate":"(indexof(['Poor','Moderate','Well'],datum.a)+indexof(['Poor','Moderate','Well'],datum.b))/2+1","as":"mid"}],"mark":{"type":"text","text":"***","fontSize":10,"color":"#444","dy":-1,"baseline":"alphabetic"},"encoding":{"x":{"field":"mid","type":"quantitative"},"y":{"field":"y","type":"quantitative"}}}
]},
{"width":219,"height":141,"title":{"text":"F","dx":-36,"dy":14},
"layer":[
{"data":{"name":"pF"},"transform":[{"calculate":"indexof(['I','II','III'],datum.g)+1","as":"i"},{"calculate":"floor(datum.v/0.14)","as":"b"},{"calculate":"(round(datum.v*100)*37)%11","as":"k"},{"joinaggregate":[{"op":"count","as":"n"}],"groupby":["g","b"]},{"window":[{"op":"row_number","as":"r"}],"groupby":["g","b"],"sort":[{"field":"k"}]},{"calculate":"datum.i+(datum.r-(datum.n+1)/2)*0.057","as":"x"}],
"mark":{"type":"point","filled":true,"size":9,"color":"#000","opacity":1},
"encoding":{"x":{"field":"x","type":"quantitative","scale":{"domain":[0.408,3.493],"nice":false,"zero":false},"axis":{"values":[1,2,3],"labelExpr":"['','Stage I','Stage II','Stage III'][datum.value]","title":null}},"y":{"field":"v","type":"quantitative","scale":{"domain":[0,5],"nice":false},"axis":{"values":[0,1,2,3,4,5],"format":"d","tickCount":12,"labelOverlap":false,"title":"Relative expression of miR-18a"}},"shape":{"field":"g","type":"nominal","scale":{"domain":["I","II","III"],"range":["square","square","triangle-up"]},"legend":null}}},
{"data":{"name":"sF"},"transform":[{"calculate":"indexof(['I','II','III'],datum.g)+1","as":"i"}],"mark":{"type":"rule","strokeWidth":2.5,"color":"#000"},"encoding":{"x":{"field":"i","type":"quantitative"},"y":{"field":"lo","type":"quantitative"},"y2":{"field":"hi"}}},
{"data":{"name":"sF"},"transform":[{"calculate":"indexof(['I','II','III'],datum.g)+1","as":"i"}],"mark":{"type":"rule","strokeWidth":1.5,"color":"#000","xOffset":-24,"x2Offset":24},"encoding":{"x":{"field":"i","type":"quantitative"},"x2":{"field":"i"},"y":{"field":"m","type":"quantitative"}}},
{"data":{"name":"sF"},"transform":[{"calculate":"indexof(['I','II','III'],datum.g)+1","as":"i"},{"fold":["lo","hi"],"as":["kk","yy"]}],"mark":{"type":"rule","strokeWidth":2.5,"color":"#000","xOffset":-12,"x2Offset":12},"encoding":{"x":{"field":"i","type":"quantitative"},"x2":{"field":"i"},"y":{"field":"yy","type":"quantitative"}}},
{"data":{"name":"gF"},"transform":[{"calculate":"indexof(['I','II','III'],datum.a)+1","as":"ia"},{"calculate":"indexof(['I','II','III'],datum.b)+1","as":"ib"}],"mark":{"type":"rule","strokeWidth":2,"color":"#000"},"encoding":{"x":{"field":"ia","type":"quantitative"},"x2":{"field":"ib"},"y":{"field":"y","type":"quantitative"}}},
{"data":{"name":"gF"},"transform":[{"calculate":"indexof(['I','II','III'],datum.a)+1","as":"ia"},{"calculate":"indexof(['I','II','III'],datum.b)+1","as":"ib"},{"fold":["ia","ib"],"as":["e","ex"]}],"mark":{"type":"rule","strokeWidth":2,"color":"#000","yOffset":-5,"y2Offset":5},"encoding":{"x":{"field":"ex","type":"quantitative"},"y":{"field":"y","type":"quantitative"},"y2":{"field":"y"}}},
{"data":{"name":"gF"},"transform":[{"calculate":"(indexof(['I','II','III'],datum.a)+indexof(['I','II','III'],datum.b))/2+1","as":"mid"}],"mark":{"type":"text","text":"***","fontSize":10,"color":"#444","dy":-1,"baseline":"alphabetic"},"encoding":{"x":{"field":"mid","type":"quantitative"},"y":{"field":"y","type":"quantitative"}}}
]}
],"spacing":50,"bounds":"flush"}
],"spacing":61,"bounds":"flush"}
]
}
